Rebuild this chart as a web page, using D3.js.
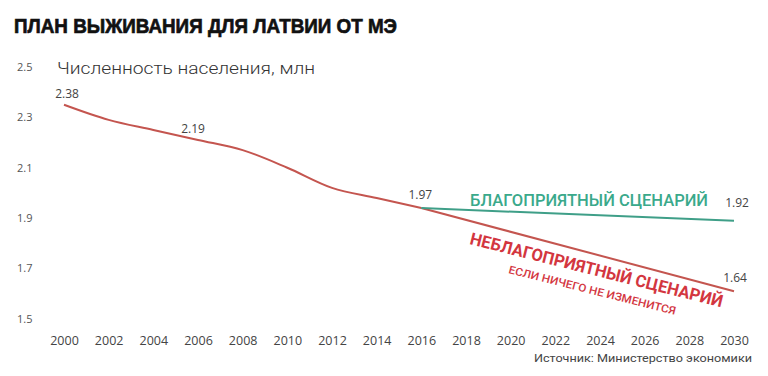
<!DOCTYPE html>
<html>
<head>
<meta charset="utf-8">
<script src="https://cdn.jsdelivr.net/npm/d3@7"></script>
<style>
  html, body { margin: 0; padding: 0; background: #fff; }
  svg { display: block; }
</style>
</head>
<body>
<div id="chart"></div>
<script>
/* Latvia population: history + two ministry scenarios to 2030 */
const histYears  = [2000, 2002, 2004, 2006, 2008, 2010, 2012, 2014, 2016];
const histValues = [2.38, 2.32, 2.28, 2.24, 2.20, 2.13, 2.05, 2.01, 1.97];
const goodYears  = [2016, 2030];
const goodValues = [1.97, 1.92];
const badYears   = [2016, 2030];
const badValues  = [1.97, 1.64];
const labelYears  = [2000, 2006, 2016, 2030, 2030];
const labelValues = [2.38, 2.19, 1.97, 1.92, 1.64];
const yTicks = [2.5, 2.3, 2.1, 1.9, 1.7, 1.5];
const xTicks = d3.range(2000, 2031, 2);

const W = 768, H = 376;
const RED = "#c4554f", RED_TXT = "#d3363f", GREEN = "#3f9f88", GREEN_TXT = "#3aa98b", INK = "#444";
const FONT = "'Open Sans', 'Noto Sans', sans-serif";

const svg = d3.select("#chart").append("svg").attr("width", W).attr("height", H)
  .style("font-family", FONT);

const x = d3.scaleLinear().domain([2000, 2030]).range([64, 734]);
const y = d3.scaleLinear().domain([1.5, 2.5]).range([326.5, 74.5]);

// title + subtitle
svg.append("text").attr("x", 14).attr("y", 33)
  .attr("font-family", "'Liberation Sans', Arial, sans-serif").attr("font-weight", 700)
  .attr("font-size", 21).attr("fill", "#111").attr("stroke", "#111").attr("stroke-width", 0.7)
  .attr("textLength", 383).attr("lengthAdjust", "spacingAndGlyphs")
  .text("ПЛАН ВЫЖИВАНИЯ ДЛЯ ЛАТВИИ ОТ МЭ");
svg.append("text").attr("x", 57).attr("y", 74)
  .attr("font-family", "Roboto, sans-serif").attr("font-weight", 300)
  .attr("font-size", 16).attr("fill", "#333")
  .attr("textLength", 258).attr("lengthAdjust", "spacingAndGlyphs")
  .text("Численность населения, млн");

// y tick labels sit a little above their value
svg.append("g").selectAll("text").data(yTicks).join("text")
  .attr("x", 17).attr("y", d => y(d) - 7.5).attr("dy", "0.35em")
  .attr("font-size", 11).attr("fill", "#555")
  .text(d => d.toFixed(1));

// x axis labels
const gx = svg.append("g").attr("transform", "translate(0,333)")
  .call(d3.axisBottom(x).tickValues(xTicks).tickFormat(d3.format("d")).tickSize(0));
gx.select(".domain").remove();
gx.selectAll("text").attr("font-family", FONT).attr("font-size", 12.5).attr("fill", INK);

const line = d3.line().x(d => x(d[0])).y(d => y(d[1]));

svg.append("path").datum(d3.zip(histYears, histValues))
  .attr("fill", "none").attr("stroke", RED).attr("stroke-width", 2)
  .attr("d", line.curve(d3.curveMonotoneX));
svg.append("path").datum(d3.zip(badYears, badValues))
  .attr("fill", "none").attr("stroke", RED).attr("stroke-width", 2)
  .attr("d", line.curve(d3.curveLinear));
svg.append("path").datum(d3.zip(goodYears, goodValues))
  .attr("fill", "none").attr("stroke", GREEN).attr("stroke-width", 2)
  .attr("d", line.curve(d3.curveLinear));

// value labels
const labelOff = [[3, -7], [-5, -20], [-1, -9], [3, -14], [1, -9]];
svg.append("g").selectAll("text").data(d3.zip(labelYears, labelValues)).join("text")
  .attr("x", (d, i) => x(d[0]) + labelOff[i][0])
  .attr("y", (d, i) => y(d[1]) + labelOff[i][1])
  .attr("text-anchor", "middle").attr("font-size", 12).attr("fill", INK)
  .text(d => d[1].toFixed(2));

// scenario labels
svg.append("text").attr("x", 470).attr("y", 206)
  .attr("font-family", "Roboto, sans-serif").attr("font-weight", 500)
  .attr("font-size", 17).attr("fill", GREEN_TXT)
  .attr("textLength", 238).attr("lengthAdjust", "spacingAndGlyphs")
  .text("БЛАГОПРИЯТНЫЙ СЦЕНАРИЙ");

const ang = Math.atan2(y(badValues[1]) - y(badValues[0]), x(badYears[1]) - x(badYears[0])) * 180 / Math.PI - 0.8;
svg.append("text").attr("transform", `translate(469,244) rotate(${ang})`)
  .attr("font-family", "Roboto, sans-serif").attr("font-weight", 700)
  .attr("font-size", 17).attr("fill", RED_TXT)
  .attr("textLength", 260).attr("lengthAdjust", "spacingAndGlyphs")
  .text("НЕБЛАГОПРИЯТНЫЙ СЦЕНАРИЙ");
svg.append("text").attr("transform", `translate(508,273) rotate(${ang})`)
  .attr("font-family", "Roboto, sans-serif").attr("font-weight", 500)
  .attr("font-size", 11).attr("fill", RED_TXT)
  .attr("textLength", 172).attr("lengthAdjust", "spacingAndGlyphs")
  .text("ЕСЛИ НИЧЕГО НЕ ИЗМЕНИТСЯ");

// source
svg.append("text").attr("x", 752).attr("y", 362).attr("text-anchor", "end")
  .attr("font-family", "Roboto, sans-serif").attr("font-size", 11.5).attr("fill", INK)
  .attr("textLength", 218).attr("lengthAdjust", "spacingAndGlyphs")
  .text("Источник: Министерство экономики");
</script>
</body>
</html>
